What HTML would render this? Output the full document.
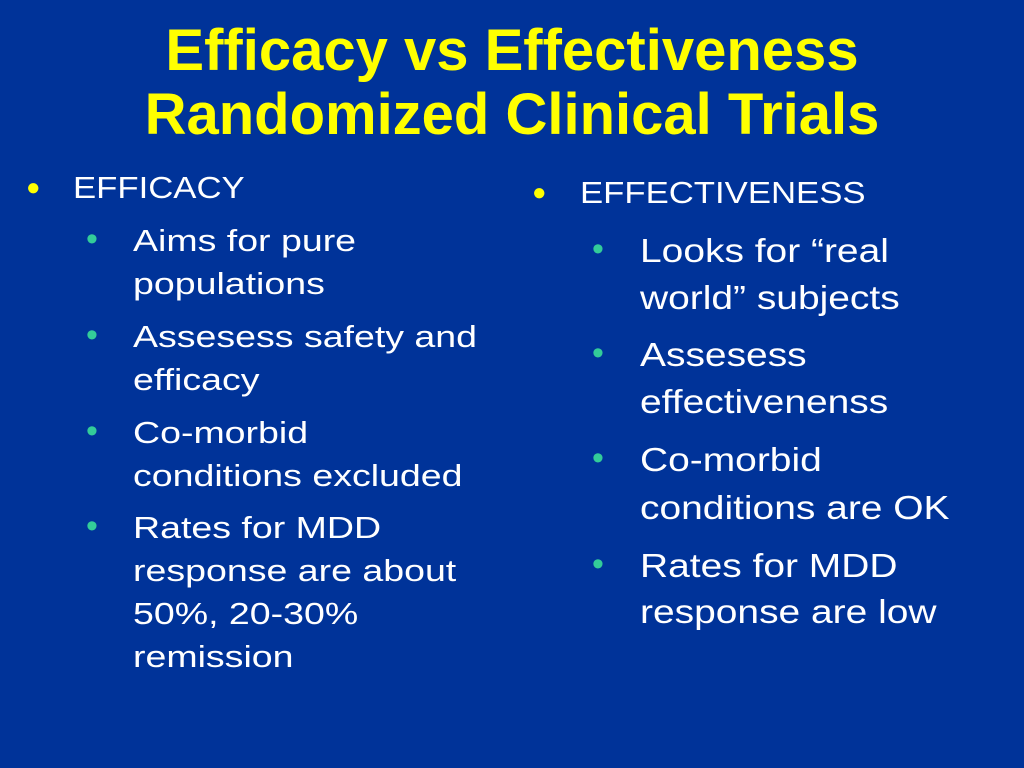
<!DOCTYPE html>
<html><head><meta charset="utf-8"><style>
html,body{margin:0;padding:0}
body{width:1024px;height:768px;background:#003399;position:relative;overflow:hidden;font-family:"Liberation Sans",sans-serif}
.t{position:absolute;left:0;width:1024px;text-align:center;color:#ffff00;font-weight:bold;font-size:58px;line-height:64px}
.l{position:absolute;color:#fff;white-space:nowrap;line-height:1;transform-origin:0 0}
.b{position:absolute;line-height:1}
.c1{font-size:31px;transform:scaleX(1.21)}
.c2{font-size:33px;transform:scaleX(1.18)}
.h{font-size:31px;transform:scaleX(1.12)}
.s{color:#33cc99;font-size:34px}
</style></head><body>
<div class="t" style="top:19px">Efficacy vs Effectiveness<br>Randomized Clinical Trials</div>

<div>
<div class="b" style="left:26px;top:176px;color:#ffff00;font-size:24px">●</div>
<div class="l h" style="left:73px;top:172px">EFFICACY</div>
<div class="b s" style="left:86px;top:222px">•</div>
<div class="l c1" style="left:133px;top:225px">Aims for pure</div>
<div class="l c1" style="left:133px;top:268px">populations</div>
<div class="b s" style="left:86px;top:318px">•</div>
<div class="l c1" style="left:133px;top:321px">Assesess safety and</div>
<div class="l c1" style="left:133px;top:364px">efficacy</div>
<div class="b s" style="left:86px;top:414px">•</div>
<div class="l c1" style="left:133px;top:417px">Co-morbid</div>
<div class="l c1" style="left:133px;top:460px">conditions excluded</div>
<div class="b s" style="left:86px;top:509px">•</div>
<div class="l c1" style="left:133px;top:512px">Rates for MDD</div>
<div class="l c1" style="left:133px;top:555px">response are about</div>
<div class="l c1" style="left:133px;top:598px">50%, 20-30%</div>
<div class="l c1" style="left:133px;top:641px">remission</div>
</div>

<div>
<div class="b" style="left:532px;top:181px;color:#ffff00;font-size:24px">●</div>
<div class="l h" style="left:580px;top:177px">EFFECTIVENESS</div>
<div class="b s" style="left:592px;top:232px">•</div>
<div class="l c2" style="left:640px;top:234px">Looks for “real</div>
<div class="l c2" style="left:640px;top:281px">world” subjects</div>
<div class="b s" style="left:592px;top:336px">•</div>
<div class="l c2" style="left:640px;top:338px">Assesess</div>
<div class="l c2" style="left:640px;top:385px">effectivenenss</div>
<div class="b s" style="left:592px;top:441px">•</div>
<div class="l c2" style="left:640px;top:443px">Co-morbid</div>
<div class="l c2" style="left:640px;top:491px">conditions are OK</div>
<div class="b s" style="left:592px;top:547px">•</div>
<div class="l c2" style="left:640px;top:549px">Rates for MDD</div>
<div class="l c2" style="left:640px;top:595px">response are low</div>
</div>
</body></html>
